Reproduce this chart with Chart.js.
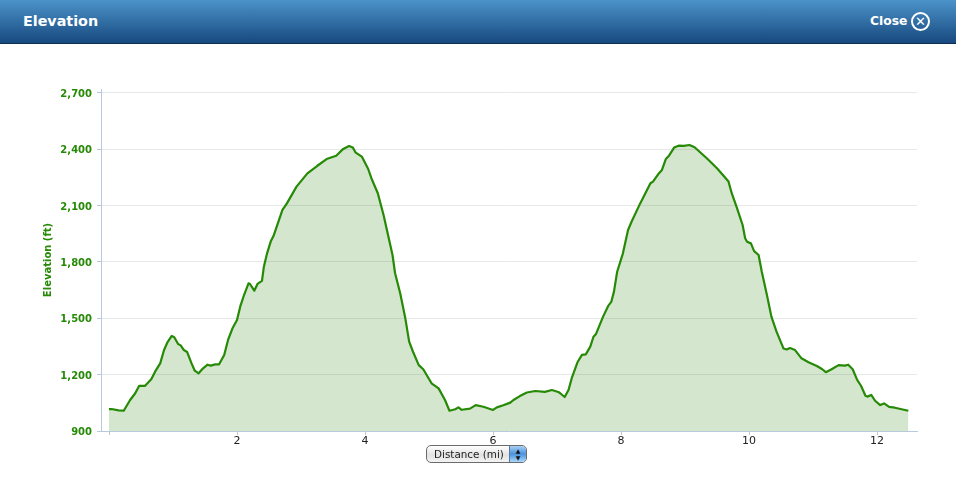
<!DOCTYPE html>
<html>
<head>
<meta charset="utf-8">
<title>Elevation</title>
<script src="https://cdn.jsdelivr.net/npm/chart.js@4/dist/chart.umd.min.js"></script>
<style>
html, body { margin: 0; padding: 0; background: #fff; }
body { width: 956px; height: 489px; overflow: hidden; position: relative; font-family: "DejaVu Sans", sans-serif; }
#header { position: absolute; left: 0; top: 0; width: 956px; height: 43px; border-bottom: 1px solid #0c2f52;
	background: linear-gradient(#4b93c9, #17497f); color: #fff; }
#title { position: absolute; left: 23px; top: 11px; font-size: 14.3px; font-weight: bold; line-height: 20px; }
#close { position: absolute; left: 870px; top: 12px; font-size: 12.3px; font-weight: bold; line-height: 18px; }
#closeIcon { position: absolute; left: 911px; top: 12px; width: 15px; height: 15px; border: 2px solid #fff; border-radius: 50%;
	color: #fff; font-size: 13px; font-weight: bold; line-height: 15px; text-align: center; }
#wrap { position: absolute; left: 0; top: 44px; width: 956px; height: 445px; }
#select { position: absolute; left: 426px; top: 445px; width: 99px; height: 16px; border: 1px solid #6b6b6b; border-radius: 5px;
	background: linear-gradient(#ffffff, #e2e2e2 55%, #f4f4f4); font-size: 10.4px; line-height: 16px; color: #222; overflow: hidden; }
#select span { position: absolute; left: 7px; top: 0; }
#arrows { position: absolute; right: 0; top: 0; width: 17px; height: 16px; background: linear-gradient(#a9d0f2, #4b92dc 50%, #a9d8fa);
	border-left: 1px solid #5577aa; color: #111; font-size: 6px; line-height: 7px; text-align: center; padding-top: 1px; box-sizing: border-box; }
</style>
</head>
<body>
<div id="header">
	<div id="title">Elevation</div>
	<div id="close">Close</div>
	<div id="closeIcon">✕</div>
</div>
<div id="wrap"><canvas id="myChart" width="956" height="445"></canvas></div>
<div id="select"><span>Distance (mi)</span><div id="arrows">▲<br>▼</div></div>
<script>
var yTicks = [900, 1200, 1500, 1800, 2100, 2400, 2700];
var xTicks = [0, 2, 4, 6, 8, 10, 12];
var distance = [0, 0.04, 0.15, 0.23, 0.33, 0.41, 0.47, 0.56, 0.66, 0.72, 0.8, 0.86, 0.91, 0.98, 1.02, 1.08, 1.12, 1.17, 1.22, 1.29, 1.34, 1.4, 1.47, 1.54, 1.59, 1.66, 1.72, 1.8, 1.86, 1.93, 2, 2.05, 2.11, 2.18, 2.2, 2.27, 2.32, 2.39, 2.42, 2.47, 2.53, 2.57, 2.65, 2.71, 2.78, 2.93, 3.1, 3.25, 3.4, 3.55, 3.66, 3.75, 3.81, 3.85, 3.95, 4.05, 4.1, 4.2, 4.29, 4.36, 4.43, 4.47, 4.55, 4.63, 4.69, 4.75, 4.84, 4.91, 5.04, 5.15, 5.25, 5.32, 5.41, 5.46, 5.51, 5.64, 5.73, 5.85, 6, 6.06, 6.16, 6.27, 6.32, 6.42, 6.53, 6.66, 6.81, 6.92, 7.02, 7.05, 7.12, 7.18, 7.23, 7.32, 7.39, 7.45, 7.52, 7.57, 7.61, 7.72, 7.8, 7.85, 7.89, 7.94, 8.03, 8.11, 8.17, 8.3, 8.46, 8.5, 8.58, 8.64, 8.7, 8.75, 8.83, 8.9, 8.98, 9.07, 9.15, 9.34, 9.5, 9.68, 9.73, 9.81, 9.9, 9.94, 9.97, 10.03, 10.08, 10.15, 10.2, 10.28, 10.35, 10.43, 10.54, 10.59, 10.64, 10.72, 10.82, 10.93, 11.06, 11.14, 11.2, 11.29, 11.4, 11.5, 11.55, 11.62, 11.69, 11.75, 11.82, 11.85, 11.91, 11.97, 12.05, 12.11, 12.19, 12.28, 12.49];
var elevation = [1016, 1017, 1010, 1008, 1065, 1101, 1140, 1140, 1175, 1216, 1260, 1331, 1370, 1406, 1399, 1363, 1356, 1331, 1321, 1260, 1221, 1207, 1234, 1253, 1248, 1255, 1255, 1305, 1385, 1447, 1491, 1562, 1624, 1686, 1684, 1647, 1683, 1699, 1775, 1846, 1912, 1938, 2018, 2077, 2112, 2201, 2272, 2311, 2348, 2366, 2402, 2418, 2409, 2384, 2361, 2295, 2246, 2166, 2050, 1944, 1837, 1740, 1633, 1500, 1376, 1322, 1251, 1229, 1154, 1127, 1065, 1008, 1016, 1026, 1013, 1019, 1038, 1029, 1012, 1026, 1037, 1051, 1065, 1086, 1105, 1113, 1108, 1118, 1108, 1101, 1081, 1118, 1181, 1266, 1305, 1308, 1349, 1402, 1417, 1509, 1566, 1589, 1642, 1748, 1846, 1970, 2018, 2112, 2219, 2228, 2267, 2290, 2348, 2366, 2409, 2419, 2418, 2423, 2411, 2352, 2299, 2228, 2166, 2089, 1997, 1926, 1908, 1899, 1858, 1837, 1748, 1624, 1509, 1429, 1339, 1334, 1342, 1331, 1287, 1266, 1246, 1230, 1213, 1229, 1251, 1248, 1253, 1229, 1172, 1141, 1088, 1083, 1092, 1061, 1038, 1047, 1028, 1024, 1008];
var points = distance.map(function (d, i) { return { x: d, y: elevation[i] }; });

function setTicks(values) {
	return function (scale) {
		scale.ticks = values.map(function (v) { return { value: v }; });
	};
}

new Chart('myChart', {
	type: 'line',
	data: {
		datasets: [
			{
				data: points,
				borderColor: '#268a07',
				borderWidth: 2.2,
				borderJoinStyle: 'round',
				backgroundColor: 'rgba(38,132,7,0.2)',
				fill: 'origin',
				pointRadius: 0,
				tension: 0,
			},
		],
	},
	options: {
		responsive: false,
		animation: false,
		layout: { padding: { left: 42, top: 45, right: 39, bottom: 0 } },
		plugins: { legend: { display: false }, tooltip: { enabled: false } },
		scales: {
			x: {
				type: 'linear',
				min: -0.125,
				max: 12.625,
				afterBuildTicks: setTicks(xTicks),
				afterFit: function (s) { s.height = 58; s.paddingLeft = 0; s.paddingRight = 0; },
				border: { color: '#b9c9dc' },
				grid: { drawOnChartArea: false, tickLength: 4, color: '#c0c8d0' },
				ticks: {
					maxRotation: 0,
					autoSkip: false,
					padding: 0,
					color: '#222',
					font: { family: 'DejaVu Sans', size: 11 },
					callback: function (v) { return v === 0 ? '' : v; },
				},
			},
			y: {
				min: 900,
				max: 2721,
				afterBuildTicks: setTicks(yTicks),
				afterFit: function (s) { s.width = 59; },
				border: { color: '#b9c9dc' },
				grid: {
					color: function (ctx) { return ctx.tick && ctx.tick.value === 900 ? 'rgba(0,0,0,0)' : '#e6e8ea'; },
					tickLength: 4,
					tickColor: '#b9c9dc',
				},
				title: {
					display: true,
					text: 'Elevation (ft)',
					color: '#268a07',
					padding: { top: 0, bottom: 0 },
					font: { family: 'DejaVu Sans', size: 10, weight: 'bold' },
				},
				ticks: {
					padding: 5,
					labelOffset: 1.5,
					color: '#268a07',
					font: { family: 'DejaVu Sans', size: 10, weight: 'bold' },
					callback: function (v) { return v.toLocaleString('en-US'); },
				},
			},
		},
	},
});
</script>
</body>
</html>
